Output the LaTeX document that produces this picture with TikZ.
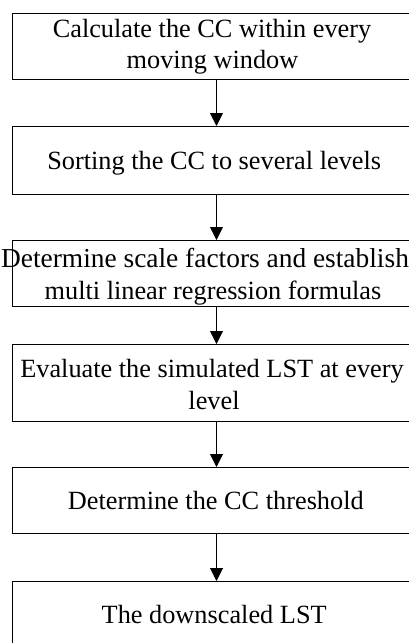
\documentclass[tikz,border=0pt]{standalone}
\usepackage{fontspec}
\setmainfont{Liberation Serif}
\usetikzlibrary{arrows.meta}
\tikzset{
  box/.style={draw, line width=0.9pt, minimum width=407.6pt, inner sep=0pt, outer sep=0pt},
  lbl/.style={anchor=base, inner sep=0pt, font=\fontsize{26.3}{31.6}\selectfont},
  arr/.style={-{Triangle[width=13pt,length=13pt]}, line width=1pt}
}
\begin{document}
\begin{tikzpicture}[x=1pt,y=1pt]
\useasboundingbox (0,0) rectangle (409,-643);
\clip (0,0) rectangle (409,-643);
% boxes
\node[box, minimum height=66pt] (b1) at (216.5,-46) {};
\node[box, minimum height=68pt] (b2) at (216.5,-160) {};
\node[box, minimum height=66pt] (b3) at (216.5,-273) {};
\node[box, minimum height=77pt] (b4) at (216.5,-382.5) {};
\node[box, minimum height=66pt] (b5) at (216.5,-500) {};
\node[box, minimum height=66pt] (b6) at (216.5,-614) {};
% texts
\node[lbl] (t1a) at (212,-37.3) {Calculate the CC within every};
\node[lbl] (t1b) at (212.5,-68.3) {moving window};
\node[lbl] (t2) at (214.2,-169.3) {Sorting the CC to several levels};
\node[lbl] (t3a) at (205,-267.3) {\fontsize{27.4}{31.6}\selectfont Determine scale factors and establish};
\node[lbl] (t3b) at (213,-299.7) {multi linear regression formulas};
\node[lbl] (t4a) at (212,-377.5) {Evaluate the simulated LST at every};
\node[lbl] (t4b) at (214,-409.5) {level};
\node[lbl] (t5) at (215.8,-509.5) {Determine the CC threshold};
\node[lbl] (t6) at (214.2,-623) {The downscaled LST};
% arrows
\draw[arr] (b1.south) -- (b2.north);
\draw[arr] (b2.south) -- (b3.north);
\draw[arr] (b3.south) -- (b4.north);
\draw[arr] (b4.south) -- (b5.north);
\draw[arr] (b5.south) -- (b6.north);
\end{tikzpicture}
\end{document}
